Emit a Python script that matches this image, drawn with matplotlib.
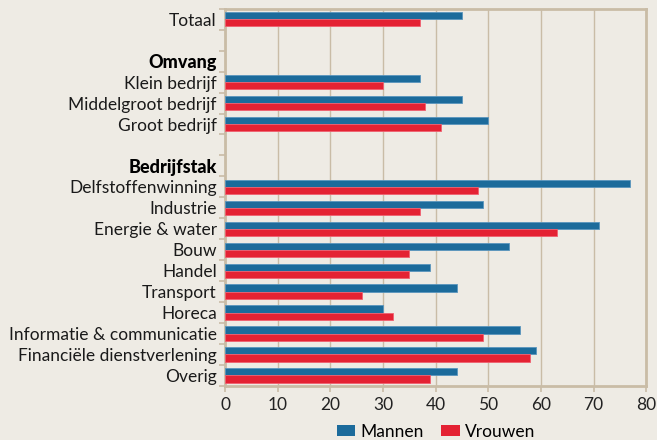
import matplotlib
matplotlib.use("Agg")
import matplotlib.pyplot as plt
import numpy as np
from matplotlib.patches import Patch

plt.rcParams['font.family'] = ['Lato', 'DejaVu Sans']

categories = ["Totaal", "", "Omvang", "Klein bedrijf", "Middelgroot bedrijf", "Groot bedrijf", "",
              "Bedrijfstak", "Delfstoffenwinning", "Industrie", "Energie & water", "Bouw", "Handel",
              "Transport", "Horeca", "Informatie & communicatie", "Financiële dienstverlening", "Overig"]
bold_labels = ["Omvang", "Bedrijfstak"]
mannen = [45, None, None, 37, 45, 50, None, None, 77, 49, 71, 54, 39, 44, 30, 56, 59, 44]
vrouwen = [37, None, None, 30, 38, 41, None, None, 48, 37, 63, 35, 35, 26, 32, 49, 58, 39]
xticks = [0, 10, 20, 30, 40, 50, 60, 70, 80]

bg = "#eeebe4"
blue = "#1c6b9b"
red = "#e42233"
tan = "#c9bca6"

fig = plt.figure(figsize=(6.57, 4.40), dpi=100, facecolor=bg)
ax = fig.add_axes([0.3425, 0.123, 0.641, 0.857], facecolor=bg)

n = len(categories)
y = np.arange(n)
h = 0.34
for i in range(n):
    if mannen[i] is not None:
        ax.barh(y[i] - h / 2, mannen[i], height=h, color=blue, edgecolor="#5a95bd", linewidth=0.6, zorder=3)
    if vrouwen[i] is not None:
        ax.barh(y[i] + h / 2, vrouwen[i], height=h, color=red, edgecolor="#f06070", linewidth=0.6, zorder=3)

ax.set_ylim(n - 0.5, -0.5)
ax.set_xlim(0, 80)
ax.set_xticks(xticks)
ax.set_xticklabels([str(t) for t in xticks], fontsize=12.5, color="#222222")
ax.xaxis.grid(True, color=tan, linewidth=1.0, zorder=0)
ax.set_yticks(y)
ax.set_yticklabels(categories, fontsize=12.5, color="#1a1a1a")
for lbl in ax.get_yticklabels():
    if lbl.get_text() in bold_labels:
        lbl.set_fontweight("black")
        lbl.set_fontsize(13)
        lbl.set_color("#000000")
ax.set_yticks(np.arange(n + 1) - 0.5, minor=True)
ax.tick_params(axis="y", which="major", length=0, pad=6)
ax.tick_params(axis="y", which="minor", length=4, color=tan, width=1.2)
ax.tick_params(axis="x", length=4, color=tan, width=1.2, pad=4)
for s in ax.spines.values():
    s.set_color(tan)
    s.set_linewidth(2.0)

handles = [Patch(facecolor=blue, label="Mannen"), Patch(facecolor=red, label="Vrouwen")]
fig.legend(handles=handles, loc="lower center", bbox_to_anchor=(0.664, -0.035), ncol=2, frameon=False,
           fontsize=12.5, handlelength=1.05, handleheight=0.6, columnspacing=1.0, handletextpad=0.3)

fig.savefig("out.png", dpi=100, facecolor=bg)
